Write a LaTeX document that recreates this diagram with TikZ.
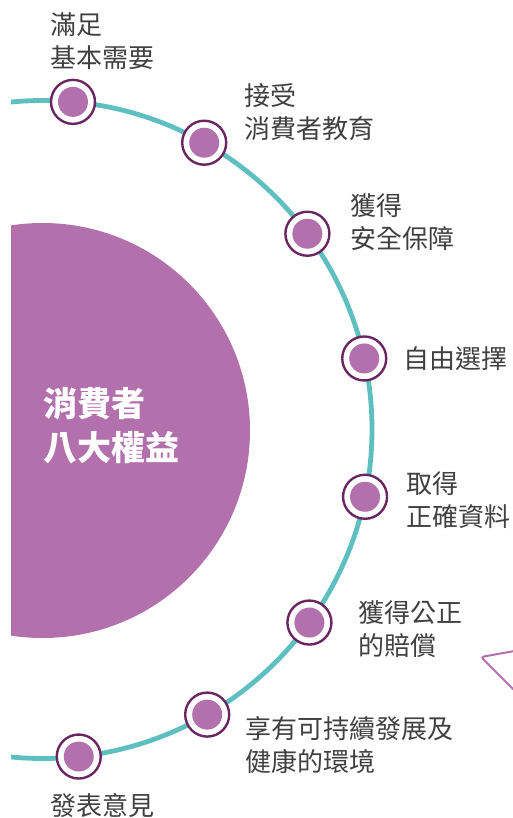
\documentclass[tikz,border=0pt]{standalone}
\usepackage{fontspec}
\newfontfamily\cjk{Noto Sans CJK TC}
\definecolor{purp}{HTML}{B270AC}
\definecolor{tealarc}{HTML}{5FBFC0}
\definecolor{dpurp}{HTML}{6A2660}
\definecolor{txt}{HTML}{404040}
\begin{document}
\begin{tikzpicture}[x=1pt,y=-1pt,
  marker/.style={circle,draw=dpurp,line width=2.4pt,fill=white,minimum size=44pt,inner sep=0pt,
     path picture={\fill[purp] (path picture bounding box.center) circle (15pt);}},
  lbl/.style={anchor=base west,inner sep=0pt,align=left,font=\cjk\fontsize{26}{33}\selectfont,text=txt},
  hubtext/.style={anchor=base west,inner sep=0pt,align=left,font=\cjk\bfseries\fontsize{34}{44}\selectfont,text=white}]
\useasboundingbox (0,0) rectangle (513,818);
\coordinate (c) at (43,429.5);
\begin{scope}
  \clip (11,0) rectangle (513,818);
  \fill[purp] (42.5,430.5) circle (207.5pt);
  \draw[tealarc,line width=4.8pt] (c) circle (329pt);
  \draw[purp,line width=2pt,rounded corners=3pt] (520,650) -- (481,657) -- (520,696);
\end{scope}
\node[hubtext] (hub) at (43,460) {消費者\\八大權益};
\path (c) ++(-84.77:329) node[marker] (m1) {};
\path (c) ++(-60.66:329) node[marker] (m2) {};
\path (c) ++(-36.52:329) node[marker] (m3) {};
\path (c) ++(-12.47:329) node[marker] (m4) {};
\path (c) ++(11.8:329) node[marker] (m5) {};
\path (c) ++(35.93:329) node[marker] (m6) {};
\path (c) ++(60.06:329) node[marker] (m7) {};
\path (c) ++(83.76:329) node[marker] (m8) {};
\node[lbl] (t1) at (50,68) {滿足\\基本需要};
\node[lbl] (t2) at (244,139) {接受\\消費者教育};
\node[lbl] (t3) at (350,248) {獲得\\安全保障};
\node[lbl] (t4) at (403,368) {自由選擇};
\node[lbl] (t5) at (406,526) {取得\\正確資料};
\node[lbl] (t6) at (358,655) {獲得公正\\的賠償};
\node[lbl] (t7) at (245,771) {享有可持續發展及\\健康的環境};
\node[lbl] (t8) at (50,815) {發表意見};
\end{tikzpicture}
\end{document}
